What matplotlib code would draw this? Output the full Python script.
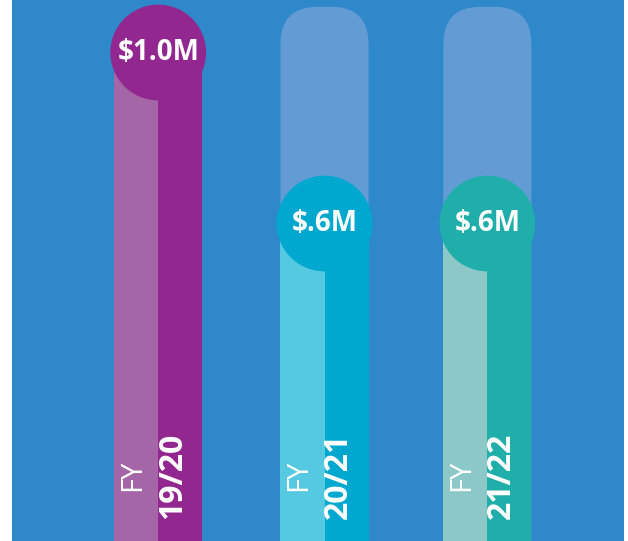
import matplotlib
matplotlib.use("Agg")
import matplotlib.pyplot as plt
from matplotlib.patches import Rectangle, Circle, FancyBboxPatch

# funding per fiscal year, $M
years = ["19/20", "20/21", "21/22"]
values = [1.0, 0.6, 0.6]
labels = ["$1.0M", "$.6M", "$.6M"]

light_colors = ["#A566A8", "#56C9E2", "#8DC8C9"]
dark_colors = ["#92278F", "#00A8CF", "#20AEAB"]
bg_color = "#2E88C9"
track_color = "#639CD4"

xpos = [0.342, 0.731, 1.112]
bar_w = 0.206
dot_r = 0.112
corner = 0.087
k = 427.5  # pixels per $1M
y_top = max(values) + 0.107

fig = plt.figure(figsize=(6.28, 5.41), dpi=100)
fig.patch.set_facecolor("white")
ax = fig.add_axes([12 / 628, 0, 612 / 628, 1])
ax.set_facecolor(bg_color)
ax.set_xlim(0, 612 / k)
ax.set_ylim(-61 / k, 480 / k)
ax.axis("off")
ax.add_patch(Rectangle((0, -61 / k), 612 / k, 541 / k, color=bg_color, zorder=0))

bottom = -0.3
for x, v, lab, yr, lc, dc in zip(xpos, values, labels, years, light_colors, dark_colors):
    # rounded track up to the max, hidden behind the top bar
    if v < max(values):
        ax.add_patch(FancyBboxPatch((x - bar_w / 2, bottom), bar_w, y_top - bottom,
                                    boxstyle=f"round,pad=0,rounding_size={corner}",
                                    fc=track_color, ec="none", zorder=1))
    ax.add_patch(Rectangle((x - bar_w / 2, bottom), bar_w / 2, v - bottom,
                           fc=lc, ec="none", zorder=2))
    ax.add_patch(Rectangle((x, bottom), bar_w / 2, v - bottom,
                           fc=dc, ec="none", zorder=2))
    ax.add_patch(Circle((x, v), dot_r, fc=dc, ec="none", zorder=3))
    ax.text(x, v, lab, color="white", fontsize=20, fontweight="bold",
            family="Open Sans", ha="center", va="center", zorder=4)
    ax.text(x - 0.060, 0.01, "FY", color="white", fontsize=21, fontweight="normal",
            family="Open Sans", rotation=90, ha="center", va="center", zorder=4)
    ax.text(x + 0.033, 0.01, yr, color="white", fontsize=23, fontweight="bold",
            family="Open Sans", rotation=90, ha="center", va="center", zorder=4)

fig.savefig("out.png", dpi=100, facecolor="white")
